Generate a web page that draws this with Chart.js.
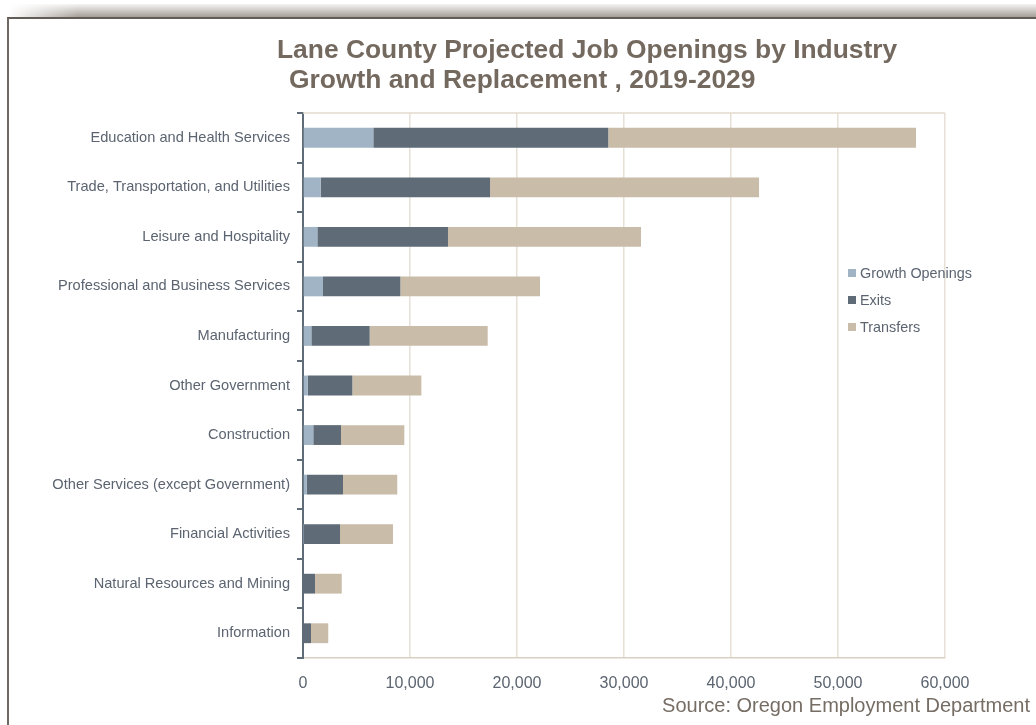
<!DOCTYPE html>
<html>
<head>
<meta charset="utf-8">
<script src="https://cdn.jsdelivr.net/npm/chart.js@4/dist/chart.umd.min.js"></script>
<style>
  html, body { margin: 0; padding: 0; background: #fff; overflow: hidden; }
  body { width: 1036px; height: 725px; position: relative; font-family: Arial, "Liberation Sans", sans-serif; }
  #sombra {
    position: absolute; left: 8px; top: 4px; width: 1040px; height: 13px;
    background: linear-gradient(to bottom, rgba(190, 184, 178, 0.15), rgba(160, 153, 146, 0.95));
    -webkit-mask-image: linear-gradient(to right, transparent 0, #000 70px);
    mask-image: linear-gradient(to right, transparent 0, #000 70px);
  }
  #marco {
    position: absolute; left: 7px; top: 17px; width: 1100px; height: 800px;
    border-top: 2px solid #625c57; border-left: 2px solid #6e6862;
  }
  #titulo {
    position: absolute; left: 277px; top: 34px; color: #74695f;
    font-size: 26.4px; font-weight: bold; line-height: 30px; white-space: pre;
  }
  #titulo span { padding-left: 12px; }
  #fuente {
    position: absolute; right: 6px; top: 694px; color: #766d64; font-size: 20px;
  }
  #leyenda { position: absolute; left: 848px; top: 265px; font-size: 14.4px; color: #5b6470; }
  #leyenda div { height: 27px; line-height: 16px; white-space: nowrap; }
  #leyenda span.caja { display: inline-block; width: 8px; height: 8px; margin-right: 4px; vertical-align: 1px; }
  #grafico { position: absolute; left: 0; top: 0; }
</style>
</head>
<body>
<div id="sombra"></div>
<div id="marco"></div>
<canvas id="grafico" width="1036" height="725"></canvas>
<div id="titulo">Lane County Projected Job Openings by Industry
<span>Growth and Replacement , 2019-2029</span></div>
<div id="leyenda"></div>
<div id="fuente">Source: Oregon Employment Department</div>
<script>
// datos
const industrias = [
  'Education and Health Services',
  'Trade, Transportation, and Utilities',
  'Leisure and Hospitality',
  'Professional and Business Services',
  'Manufacturing',
  'Other Government',
  'Construction',
  'Other Services (except Government)',
  'Financial Activities',
  'Natural Resources and Mining',
  'Information'
];
const growthOpenings = [6570, 1650, 1340, 1870, 780, 440, 960, 340, 30, 0, 0];
const exits = [21960, 15830, 12210, 7230, 5450, 4170, 2590, 3400, 3430, 1120, 750];
const transfers = [28760, 25140, 18040, 13050, 11030, 6450, 5920, 5070, 4950, 2500, 1610];
const ejeMax = 60000;
const ejePaso = 10000;

const colores = ['#a0b4c6', '#5f6b76', '#c9bca9'];

// linea de arriba del area del grafico
const bordeSuperior = {
  id: 'bordeSuperior',
  afterDraw(chart) {
    const { ctx, chartArea } = chart;
    ctx.save();
    ctx.strokeStyle = '#e2dacd';
    ctx.lineWidth = 1.5;
    ctx.beginPath();
    ctx.moveTo(chartArea.left, chartArea.top);
    ctx.lineTo(chartArea.right, chartArea.top);
    ctx.stroke();
    ctx.restore();
  }
};

const grafico = new Chart(document.getElementById('grafico'), {
  type: 'bar',
  data: {
    labels: industrias,
    datasets: [
      { label: 'Growth Openings', data: growthOpenings, backgroundColor: colores[0] },
      { label: 'Exits', data: exits, backgroundColor: colores[1] },
      { label: 'Transfers', data: transfers, backgroundColor: colores[2] }
    ]
  },
  options: {
    indexAxis: 'y',
    responsive: false,
    animation: false,
    layout: { padding: { left: 0, right: 91, top: 113, bottom: 27 } },
    datasets: { bar: { barPercentage: 0.8, categoryPercentage: 0.5, borderWidth: 0 } },
    plugins: {
      legend: { display: false },
      title: { display: false },
      tooltip: { enabled: false }
    },
    scales: {
      x: {
        stacked: true,
        min: 0,
        max: ejeMax,
        ticks: {
          stepSize: ejePaso,
          padding: 16,
          color: '#5b6470',
          font: { family: 'Arial, "Liberation Sans"', size: 16 },
          callback: v => v.toLocaleString('en-US')
        },
        grid: { color: '#e6e0d6', lineWidth: 1.5, drawTicks: false },
        border: { color: '#d9d0c3', width: 1.5 },
        afterFit(s) { s.height = 40; }
      },
      y: {
        stacked: true,
        ticks: {
          padding: 7,
          color: '#5b6470',
          font: { family: 'Arial, "Liberation Sans"', size: 14.6 }
        },
        grid: { drawOnChartArea: false, drawTicks: true, tickLength: 6, color: '#5f6b76', lineWidth: 2 },
        border: { color: '#5f6b76', width: 2 },
        afterFit(s) { s.width = 303; }
      }
    }
  },
  plugins: [bordeSuperior]
});

// leyenda en html a partir de los datasets
const leyenda = document.getElementById('leyenda');
grafico.data.datasets.forEach(ds => {
  const fila = document.createElement('div');
  fila.innerHTML = '<span class="caja" style="background:' + ds.backgroundColor + '"></span>' + ds.label;
  leyenda.appendChild(fila);
});
</script>
</body>
</html>
